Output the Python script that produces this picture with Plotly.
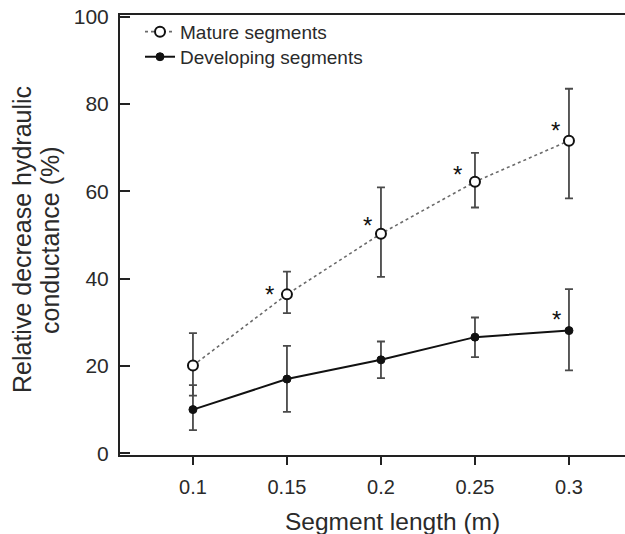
import plotly.graph_objects as go

seg_len = [0.1, 0.15, 0.2, 0.25, 0.3]
x_ticks = [0.1, 0.15, 0.2, 0.25, 0.3]
x_tick_labels = ["0.1", "0.15", "0.2", "0.25", "0.3"]
y_ticks = [0, 20, 40, 60, 80, 100]

mature = [20.1, 36.4, 50.3, 62.2, 71.6]
mature_err_plus = [7.4, 5.2, 10.6, 6.6, 11.9]
mature_err_minus = [6.9, 4.3, 9.9, 5.9, 13.2]

developing = [10.0, 17.0, 21.4, 26.6, 28.1]
developing_err_plus = [5.6, 7.6, 4.2, 4.5, 9.5]
developing_err_minus = [4.7, 7.5, 4.2, 4.6, 9.1]

# indices of points marked as significant
mature_sig = [1, 2, 3, 4]
developing_sig = [4]

x_title = "Segment length (m)"
y_title_lines = ["Relative decrease hydraulic", "conductance (%)"]

# pixel offsets of the significance asterisks (styling only)
mature_star_shift = {1: (-17, 0), 2: (-13, 8), 3: (-17, 7), 4: (-13, 10)}
developing_star_shift = {4: (-12, 11)}

FONT = "Liberation Sans, Arial, sans-serif"
TXT = "#2a2a2a"
ERRC = "#4a4a4a"

fig = go.Figure()

fig.add_trace(go.Scatter(
    x=seg_len, y=mature, name="Mature segments", mode="lines+markers",
    line=dict(color="#6a6a6a", width=1.6, dash="dot"),
    marker=dict(symbol="circle", size=10, color="white",
                line=dict(color="#111111", width=2)),
    error_y=dict(type="data", symmetric=False, array=mature_err_plus,
                 arrayminus=mature_err_minus, color=ERRC, thickness=1.8, width=4),
    legend="legend",
))
fig.add_trace(go.Scatter(
    x=seg_len, y=developing, name="Developing segments", mode="lines+markers",
    line=dict(color="#111111", width=2),
    marker=dict(symbol="circle", size=8, color="#111111",
                line=dict(color="#111111", width=1)),
    error_y=dict(type="data", symmetric=False, array=developing_err_plus,
                 arrayminus=developing_err_minus, color=ERRC, thickness=1.8, width=4),
    legend="legend2",
))

for i in mature_sig:
    dx, dy = mature_star_shift[i]
    fig.add_annotation(x=seg_len[i], y=mature[i], text="*", showarrow=False,
                       xshift=dx, yshift=dy, font=dict(family=FONT, size=24, color="#111"))
for i in developing_sig:
    dx, dy = developing_star_shift[i]
    fig.add_annotation(x=seg_len[i], y=developing[i], text="*", showarrow=False,
                       xshift=dx, yshift=dy, font=dict(family=FONT, size=24, color="#111"))

# axis titles
fig.add_annotation(xref="paper", yref="paper", x=0.54, y=0, yshift=-66,
                   text=x_title, showarrow=False, xanchor="center", yanchor="middle",
                   font=dict(family=FONT, size=24.5, color=TXT))
fig.add_annotation(xref="paper", yref="paper", x=0, y=0.5, xshift=-98, yshift=-5,
                   text=y_title_lines[0], showarrow=False, textangle=-90,
                   xanchor="center", yanchor="middle",
                   font=dict(family=FONT, size=25, color=TXT))
fig.add_annotation(xref="paper", yref="paper", x=0, y=0.5, xshift=-70, yshift=-5,
                   text=y_title_lines[1], showarrow=False, textangle=-90,
                   xanchor="center", yanchor="middle",
                   font=dict(family=FONT, size=25, color=TXT))

legend_style = dict(xanchor="left", yanchor="top", bgcolor="rgba(0,0,0,0)",
                    font=dict(size=19, color=TXT), itemwidth=30)

fig.update_layout(
    width=625, height=534,
    margin=dict(l=120, r=0, t=15, b=79),
    paper_bgcolor="white", plot_bgcolor="white",
    font=dict(family=FONT, color=TXT),
    showlegend=True,
    legend=dict(x=0.0396, y=1.005, **legend_style),
    legend2=dict(x=0.0396, y=0.948, **legend_style),
    xaxis=dict(range=[0.0612, 0.3298], tickvals=x_ticks, ticktext=x_tick_labels,
               ticks="outside", ticklen=8, tickwidth=2, tickcolor="#222",
               showline=True, linewidth=2, linecolor="#222", mirror=True,
               showgrid=False, zeroline=False, ticklabelstandoff=5,
               tickfont=dict(size=20, color=TXT)),
    yaxis=dict(range=[-0.4, 100.4], tickvals=y_ticks,
               ticks="inside", ticklen=10, tickwidth=2, tickcolor="#222",
               showline=True, linewidth=2, linecolor="#222", mirror=False,
               showgrid=False, zeroline=False, ticklabelstandoff=5,
               tickfont=dict(size=21, color=TXT)),
)

fig.write_html("out.html")
